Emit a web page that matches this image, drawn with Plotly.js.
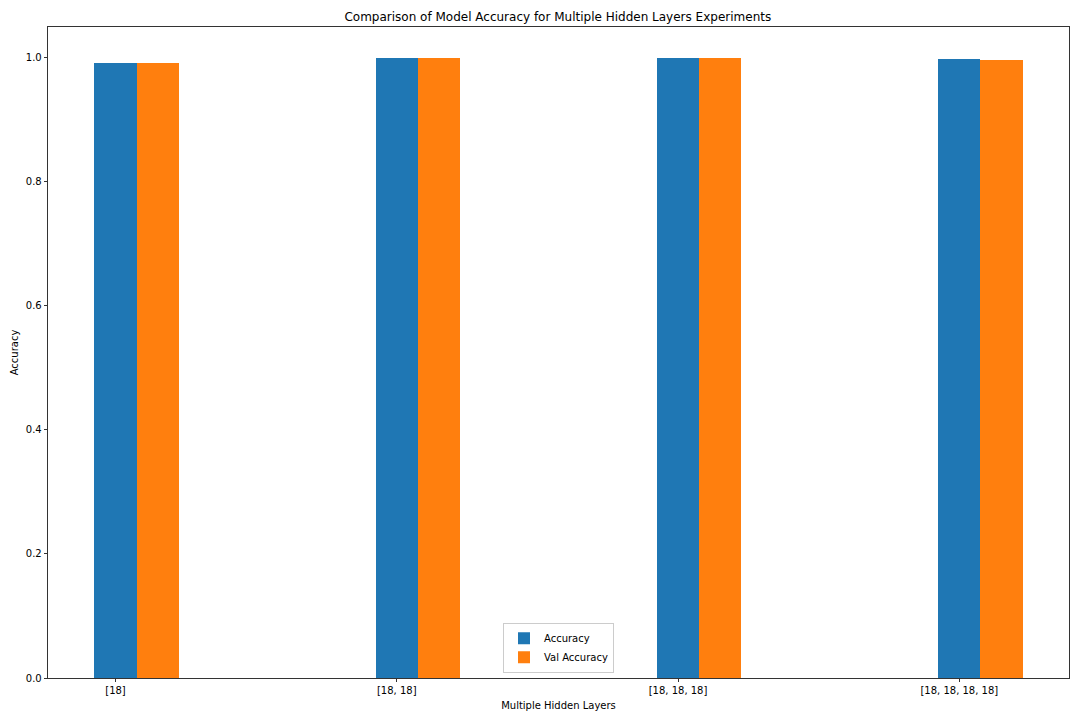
<!DOCTYPE html>
<html>
<head>
<meta charset="utf-8">
<script src="https://cdn.plot.ly/plotly-3.0.1.min.js"></script>
<style>html,body{margin:0;padding:0;background:#fff;}#chart{width:1080px;height:720px;}</style>
</head>
<body>
<div id="chart"></div>
<script>
const categories = ["[18]", "[18, 18]", "[18, 18, 18]", "[18, 18, 18, 18]"];
const accuracy = [0.991, 0.999, 0.999, 0.997];
const valAccuracy = [0.991, 0.999, 0.999, 0.996];
const seriesNames = ["Accuracy", "Val Accuracy"];
const yTicks = [0, 0.2, 0.4, 0.6, 0.8, 1.0];

const barWidth = 0.15;
const idx = categories.map((c, i) => i);

const font = {family: "DejaVu Sans, sans-serif", size: 10, color: "#000"};

const traces = [
  {type: "bar", name: seriesNames[0], x: idx, y: accuracy, width: barWidth,
   marker: {color: "#1f77b4", line: {width: 0}}},
  {type: "bar", name: seriesNames[1], x: idx.map(i => i + barWidth), y: valAccuracy, width: barWidth,
   marker: {color: "#ff7f0e", line: {width: 0}}}
];

const layout = {
  width: 1080, height: 720,
  margin: {l: 48, r: 11, t: 27, b: 42, pad: 0},
  paper_bgcolor: "#fff", plot_bgcolor: "#fff",
  font: font,
  barmode: "overlay",
  bargap: 0,
  title: {text: "Comparison of Model Accuracy for Multiple Hidden Layers Experiments",
          font: {family: "DejaVu Sans, sans-serif", size: 12, color: "#000"},
          x: 0.5165, xanchor: "center", y: 0.977, yanchor: "middle"},
  xaxis: {
    range: [-0.24, 3.39],
    tickvals: idx, ticktext: categories,
    ticks: "outside", ticklen: 3.5, tickwidth: 0.8, tickcolor: "#000",
    showgrid: false, zeroline: false,
    showline: true, mirror: true, linecolor: "#000", linewidth: 0.8,
    tickfont: font,
    title: {text: "Multiple Hidden Layers", font: font, standoff: 6}
  },
  yaxis: {
    range: [0, 1.0485],
    tickvals: yTicks, ticktext: yTicks.map(v => v.toFixed(1)),
    ticks: "outside", ticklen: 3.5, tickwidth: 0.8, tickcolor: "#000",
    showgrid: false, zeroline: false,
    showline: true, mirror: true, linecolor: "#000", linewidth: 0.8,
    tickfont: font,
    title: {text: "Accuracy", font: font, standoff: 5}
  },
  showlegend: true,
  legend: {
    x: 0.5, xanchor: "center", y: 0.008, yanchor: "bottom",
    bgcolor: "rgba(255,255,255,0.8)", bordercolor: "#cccccc", borderwidth: 1,
    font: font, traceorder: "normal", itemwidth: 30, tracegroupgap: 0
  }
};

Plotly.newPlot("chart", traces, layout, {displayModeBar: false, staticPlot: true});
</script>
</body>
</html>
